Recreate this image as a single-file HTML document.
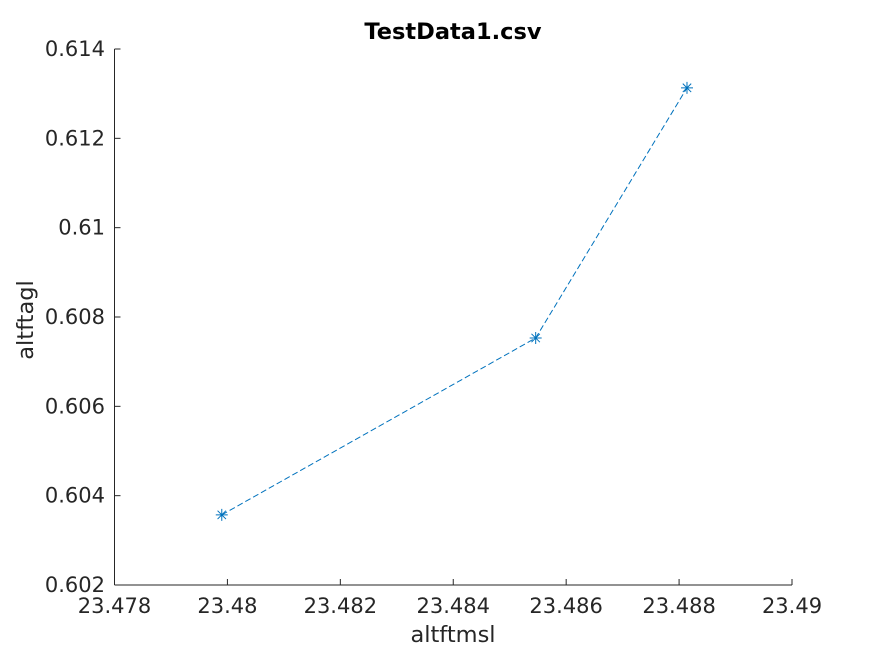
<!DOCTYPE html>
<html><head><meta charset="utf-8"><style>
body{margin:0;background:#fff;}
svg{display:block;font-family:"DejaVu Sans","Liberation Sans",sans-serif;}
</style></head><body>
<svg id="chart" width="875" height="656">
<rect width="875" height="656" fill="#fff"/>
<text x="453" y="39" text-anchor="middle" font-size="22.5" font-weight="bold" fill="#000">TestData1.csv</text>
<g id="axes"></g>
<text x="453" y="642" text-anchor="middle" font-size="22.5" fill="#262626">altftmsl</text>
<text transform="translate(33,320) rotate(-90)" text-anchor="middle" font-size="22.5" fill="#262626">altftagl</text>
</svg>
<script>
const xVals=[23.4799,23.48546,23.48814];
const yVals=[0.60357,0.60753,0.61313];
const xTicks=[23.478,23.48,23.482,23.484,23.486,23.488,23.49];
const xTickLabels=["23.478","23.48","23.482","23.484","23.486","23.488","23.49"];
const yTicks=[0.602,0.604,0.606,0.608,0.61,0.612,0.614];
const yTickLabels=["0.602","0.604","0.606","0.608","0.61","0.612","0.614"];
const X0=114.5,X1=792,Y0=585,Y1=49;
const sx=v=>X0+(v-23.478)/(23.49-23.478)*(X1-X0);
const sy=v=>Y0-(v-0.602)/(0.614-0.602)*(Y0-Y1);
const NS="http://www.w3.org/2000/svg";
const g=document.getElementById('axes');
function mk(t,a){const e=document.createElementNS(NS,t);for(const k in a)e.setAttribute(k,a[k]);g.appendChild(e);return e;}
let e=mk('line',{x1:X0,y1:Y0,x2:X1,y2:Y0,stroke:'#262626','stroke-width':1});


e=mk('line',{x1:X0,y1:Y0,x2:X0,y2:Y1,stroke:'#262626','stroke-width':1});


xTicks.forEach((v,i)=>{const x=sx(v);
 let t=mk('line',{x1:x,y1:Y0,x2:x,y2:Y0-6,stroke:'#262626'});
 
 
 let l=mk('text',{x:x,y:613,'text-anchor':'middle','font-size':21,fill:'#262626'});l.textContent=xTickLabels[i];
 
 
});
yTicks.forEach((v,i)=>{const y=sy(v);
 let t=mk('line',{x1:X0,y1:y,x2:X0+6,y2:y,stroke:'#262626'});
 
 
 let l=mk('text',{x:105,y:y+7,'text-anchor':'end','font-size':21,fill:'#262626'});l.textContent=yTickLabels[i];
 
 
});
const pts=xVals.map((v,i)=>sx(v)+','+sy(yVals[i])).join(' ');
e=mk('polyline',{points:pts,fill:'none',stroke:'#0072BD','stroke-width':1,'stroke-dasharray':'6,3'});


xVals.forEach((v,i)=>{const x=sx(v),y=sy(yVals[i]),r=6;
 const p=mk('path',{d:`M${x-r},${y}H${x+r}M${x},${y-r}V${y+r}M${x-4.2},${y-4.2}L${x+4.2},${y+4.2}M${x-4.2},${y+4.2}L${x+4.2},${y-4.2}`,stroke:'#0072BD','stroke-width':1,fill:'none'});
 
 
});
</script>
</body></html>
